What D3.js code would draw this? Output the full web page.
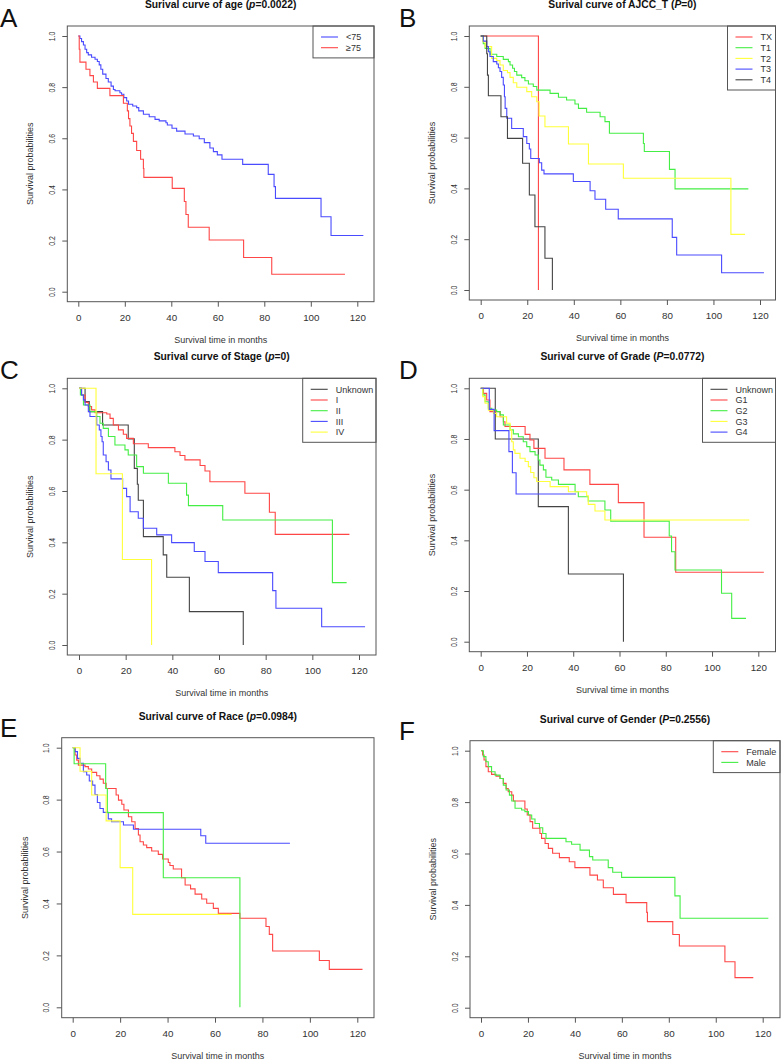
<!DOCTYPE html>
<html>
<head>
<meta charset="utf-8">
<script src="https://cdn.jsdelivr.net/npm/d3@7"></script>
<style>
  body { margin: 0; background: #fff; }
  svg { display: block; font-family: "Liberation Sans", Arial, sans-serif; }
  .box { fill: none; stroke: #555; stroke-width: 1; }
  .tick line { stroke: #555; }
  .lbl { fill: #333; }
  .title { font-weight: bold; font-size: 10.3px; fill: #111; }
  .curve { fill: none; stroke-width: 1.1; }
</style>
</head>
<body>
<script>
// tick values shared by all six panels
var monthTicks = [0, 20, 40, 60, 80, 100, 120];
var probTicks = [0, 0.2, 0.4, 0.6, 0.8, 1.0];

// Kaplan-Meier steps: [month, survival after the drop]
// A: age
var ageUnder75 = [[0,1],[0.7,0.99],[1.4,0.978],[2.2,0.965],[2.9,0.948],[3.6,0.935],[4.3,0.926],[5.7,0.917],[7.2,0.909],[8.2,0.9],[9.0,0.887],[9.7,0.87],[10.5,0.851],[11.9,0.834],[12.9,0.82],[14.1,0.804],[15.1,0.791],[15.8,0.786],[17.9,0.778],[18.6,0.772],[19.6,0.759],[20.8,0.746],[21.6,0.733],[23.4,0.726],[25.1,0.72],[26.0,0.707],[28.0,0.694],[30.5,0.684],[33.0,0.674],[34.8,0.668],[37.7,0.661],[38.3,0.652],[40.3,0.639],[42.3,0.628],[45.9,0.617],[49.5,0.609],[52.0,0.598],[54.2,0.583],[56.6,0.562],[58.1,0.548],[59.8,0.535],[61.8,0.518],[70.7,0.498],[81.7,0.459],[84.2,0.411],[84.8,0.365],[104.4,0.293],[108.7,0.22],[122.6,0.22]];
var ageOver75 = [[0,1],[0.4,0.948],[0.7,0.898],[3.3,0.87],[5.0,0.845],[6.5,0.82],[8.2,0.795],[13.6,0.767],[19.4,0.737],[21.1,0.707],[21.6,0.677],[22.2,0.648],[22.9,0.619],[23.7,0.588],[25.1,0.552],[26.8,0.518],[28.0,0.482],[28.2,0.447],[40.4,0.404],[45.6,0.353],[46.3,0.302],[47.3,0.252],[56.3,0.202],[71.1,0.134],[83.2,0.068],[114.7,0.068]];

// B: AJCC T
var ajccTX = [[0,1],[24.8,0]];
var ajccT1 = [[0,1],[1.1,0.97],[1.9,0.951],[4.0,0.928],[6.9,0.919],[9.7,0.908],[11.9,0.899],[12.6,0.886],[13.7,0.873],[14.5,0.86],[15.5,0.846],[17.6,0.836],[19.0,0.824],[20.5,0.811],[22.6,0.801],[24.1,0.787],[29.8,0.774],[33.4,0.759],[36.9,0.748],[40.5,0.732],[42.0,0.715],[45.5,0.7],[51.3,0.682],[53.4,0.663],[55.3,0.617],[69.9,0.577],[70.3,0.545],[81.1,0.475],[83.5,0.398],[115.0,0.398]];
var ajccT2 = [[0,1],[0.9,0.978],[1.9,0.958],[4.7,0.912],[6.9,0.903],[8.3,0.886],[9.7,0.864],[11.5,0.856],[12.6,0.837],[14.0,0.816],[15.5,0.798],[19.8,0.781],[21.9,0.761],[24.1,0.741],[25.1,0.685],[27.6,0.643],[37.7,0.575],[46.3,0.496],[61.3,0.44],[107.5,0.219],[113.6,0.219]];
var ajccT3 = [[0,1],[1.1,0.98],[2.6,0.958],[3.3,0.938],[4.0,0.919],[5.4,0.899],[6.9,0.89],[7.6,0.875],[8.3,0.86],[9.0,0.837],[9.7,0.807],[10.2,0.761],[10.5,0.715],[11.2,0.676],[13.3,0.636],[18.3,0.604],[19.8,0.577],[20.9,0.555],[21.5,0.518],[25.2,0.501],[26.2,0.472],[27.2,0.457],[39.8,0.427],[47.0,0.391],[49.1,0.357],[53.7,0.318],[59.1,0.28],[82.3,0.207],[84.2,0.138],[103.5,0.068],[121.7,0.068]];
var ajccT4 = [[0,1],[2.6,0.93],[2.9,0.846],[3.3,0.765],[8.7,0.682],[11.5,0.597],[18.0,0.499],[20.9,0.374],[23.3,0.249],[27.6,0.125],[30.8,0]];

// C: stage
var stageUnknown = [[0,1],[2.6,0.948],[4.4,0.909],[10.1,0.857],[21.1,0.803],[23.7,0.688],[25.0,0.626],[25.4,0.564],[27.6,0.422],[36.1,0.351],[37.6,0.264],[47.3,0.13],[70.4,0]];
var stageI = [[0,1],[1.1,0.974],[2.6,0.945],[4.0,0.929],[5.4,0.916],[6.9,0.905],[11.9,0.9],[13.3,0.883],[14.7,0.857],[16.9,0.838],[19.0,0.821],[20.4,0.805],[23.3,0.784],[29.7,0.769],[41.1,0.753],[43.3,0.738],[45.4,0.721],[51.9,0.699],[54.0,0.678],[56.1,0.636],[71.1,0.591],[81.6,0.517],[84.1,0.431],[115.9,0.431]];
var stageII = [[0,1],[0.6,0.974],[1.9,0.935],[4.7,0.909],[7.6,0.89],[9.0,0.864],[10.4,0.844],[12.6,0.812],[15.4,0.779],[19.7,0.76],[21.1,0.74],[24.7,0.695],[27.6,0.669],[38.3,0.63],[46.1,0.584],[46.9,0.543],[61.6,0.487],[108.6,0.243],[114.7,0.243]];
var stageIII = [[0,1],[1.1,0.974],[1.9,0.955],[2.6,0.935],[4.0,0.909],[4.7,0.89],[7.6,0.857],[8.7,0.838],[9.4,0.812],[9.9,0.792],[10.4,0.74],[11.6,0.714],[12.6,0.682],[13.7,0.647],[18.7,0.61],[20.4,0.578],[21.9,0.519],[25.4,0.494],[27.6,0.455],[33.3,0.429],[39.7,0.399],[49.4,0.364],[54.0,0.325],[59.7,0.282],[83.0,0.212],[84.4,0.143],[104.0,0.071],[122.6,0.071]];
var stageIV = [[0,1],[7.3,0.667],[18.6,0.333],[31.1,0]];

// D: grade
var gradeUnknown = [[0,1],[6.3,0.8],[24.9,0.533],[37.9,0.267],[61.7,0]];
var gradeG1 = [[0,1],[1.2,0.98],[2.6,0.954],[4.0,0.908],[8.4,0.888],[9.8,0.868],[10.5,0.849],[19.2,0.818],[21.3,0.796],[23.0,0.763],[27.8,0.724],[36.0,0.678],[47.2,0.621],[59.5,0.549],[70.6,0.412],[84.3,0.274],[122.4,0.274]];
var gradeG2 = [[0,1],[0.9,0.974],[1.9,0.947],[3.3,0.921],[4.8,0.914],[6.9,0.908],[8.4,0.895],[9.8,0.855],[12.7,0.836],[14.1,0.82],[16.3,0.809],[18.4,0.789],[19.9,0.77],[21.3,0.75],[23.5,0.737],[24.9,0.717],[25.6,0.697],[27.1,0.678],[28.2,0.649],[30.7,0.638],[33.6,0.621],[40.8,0.592],[42.2,0.572],[46.5,0.555],[53.7,0.52],[56.2,0.476],[81.5,0.417],[82.5,0.355],[84.0,0.283],[104.1,0.191],[108.5,0.092],[114.7,0.092]];
var gradeG3 = [[0,1],[0.9,0.967],[1.9,0.941],[3.3,0.914],[5.5,0.901],[6.9,0.888],[11.2,0.862],[12.7,0.836],[13.4,0.789],[14.1,0.757],[14.8,0.743],[17.0,0.724],[19.2,0.711],[20.6,0.691],[21.6,0.668],[23.0,0.647],[24.2,0.632],[30.0,0.612],[37.9,0.592],[45.8,0.576],[46.5,0.542],[49.4,0.516],[53.7,0.48],[116.1,0.48]];
var gradeG4 = [[0,1],[3.7,0.917],[5.8,0.833],[12.2,0.75],[13.7,0.667],[15.3,0.583],[41.2,0.583]];

// E: race (no legend in the figure)
var raceGroup1 = [[0,1],[1.0,0.972],[1.7,0.952],[2.4,0.933],[5.2,0.927],[6.6,0.918],[8.0,0.905],[10.1,0.892],[11.5,0.879],[12.9,0.863],[14.1,0.843],[18.3,0.818],[19.3,0.798],[20.7,0.782],[21.6,0.76],[23.5,0.734],[24.9,0.715],[26.3,0.689],[27.7,0.664],[28.4,0.638],[29.8,0.625],[31.2,0.615],[33.3,0.602],[36.1,0.589],[37.9,0.571],[40.3,0.558],[41.0,0.546],[42.4,0.533],[45.9,0.499],[47.4,0.471],[49.7,0.456],[51.6,0.436],[54.4,0.417],[56.5,0.401],[59.3,0.381],[61.4,0.362],[70.5,0.343],[81.5,0.311],[82.9,0.281],[84.3,0.217],[104.0,0.18],[108.2,0.146],[122.2,0.146]];
var raceGroup2 = [[0,1],[1.0,0.985],[2.0,0.959],[3.1,0.94],[4.5,0.908],[5.9,0.895],[7.0,0.872],[8.4,0.856],[9.4,0.82],[10.4,0.789],[11.5,0.766],[12.9,0.751],[15.0,0.726],[16.4,0.715],[21.4,0.702],[25.6,0.686],[54.0,0.661],[56.1,0.632],[91.6,0.632]];
var raceGroup3 = [[0,1],[0.6,0.938],[13.9,0.843],[14.6,0.75],[38.2,0.499],[70.5,0]];
var raceGroup4 = [[0,1],[3.1,0.909],[8.0,0.818],[14.1,0.718],[20.0,0.538],[25.3,0.358],[67.0,0.358]];

// F: gender
var genderFemale = [[0,1],[0.7,0.983],[1.3,0.964],[2.1,0.938],[3.1,0.918],[4.5,0.908],[6.4,0.901],[8.1,0.892],[9.5,0.873],[10.7,0.853],[11.6,0.84],[13.1,0.827],[13.8,0.804],[18.7,0.773],[19.7,0.75],[20.9,0.724],[22.0,0.698],[25.1,0.678],[25.8,0.659],[27.3,0.639],[28.7,0.62],[30.5,0.601],[33.4,0.584],[37.6,0.568],[40.0,0.545],[46.4,0.516],[49.6,0.497],[52.1,0.467],[56.4,0.441],[61.8,0.409],[70.6,0.371],[70.9,0.335],[81.7,0.285],[84.5,0.24],[103.9,0.179],[108.2,0.117],[116.0,0.117]];
var genderMale = [[0,1],[1.0,0.977],[2.1,0.957],[3.1,0.938],[4.5,0.918],[6.0,0.905],[8.1,0.892],[9.5,0.866],[10.7,0.847],[12.1,0.827],[13.1,0.804],[14.5,0.776],[17.3,0.769],[18.7,0.763],[20.2,0.75],[21.6,0.734],[23.0,0.717],[24.9,0.7],[26.3,0.678],[27.7,0.659],[36.2,0.646],[38.6,0.636],[42.2,0.613],[46.2,0.588],[47.6,0.575],[54.2,0.545],[56.1,0.527],[59.9,0.507],[82.6,0.435],[84.8,0.348],[122.4,0.348]];

var RED = "#ff4646", GREEN = "#44ee44", BLUE = "#4a4aff", YELLOW = "#ffff3a", BLACK = "#444";

var panels = [
  { letter: "A", title: "Surival curve of age (", p: "p", pval: "=0.0022)",
    box: [67.3, 26, 374, 301.7], x: [78.3, 357.3], y: [291.7, 36], legendW: 61,
    series: [["<75", ageUnder75, BLUE], ["\u226575", ageOver75, RED]] },
  { letter: "B", title: "Surival curve of AJCC_T (", p: "P", pval: "=0)",
    box: [469.3, 26, 775.5, 300], x: [480.7, 760], y: [290, 36], legendW: 48,
    series: [["TX", ajccTX, RED], ["T1", ajccT1, GREEN], ["T2", ajccT2, YELLOW], ["T3", ajccT3, BLUE], ["T4", ajccT4, BLACK]] },
  { letter: "C", title: "Surival curve of Stage (", p: "p", pval: "=0)",
    box: [67.3, 378.3, 376, 655], x: [79, 359], y: [645, 388.3], legendW: 73.3,
    series: [["Unknown", stageUnknown, BLACK], ["I", stageI, RED], ["II", stageII, GREEN], ["III", stageIII, BLUE], ["IV", stageIV, YELLOW]] },
  { letter: "D", title: "Surival curve of Grade (", p: "P", pval: "=0.0772)",
    box: [469.3, 378.3, 775.5, 651.7], x: [480.7, 758.3], y: [641.7, 388.3], legendW: 73,
    series: [["Unknown", gradeUnknown, BLACK], ["G1", gradeG1, RED], ["G2", gradeG2, GREEN], ["G3", gradeG3, YELLOW], ["G4", gradeG4, BLUE]] },
  { letter: "E", title: "Surival curve of Race (", p: "p", pval: "=0.0984)",
    box: [61.7, 737.7, 374, 1017.7], x: [72.7, 357.3], y: [1007.3, 747.7], legendW: 0,
    series: [["", raceGroup1, RED], ["", raceGroup2, BLUE], ["", raceGroup3, GREEN], ["", raceGroup4, YELLOW]] },
  { letter: "F", title: "Surival curve of Gender (", p: "P", pval: "=0.2556)",
    box: [470, 740.7, 780, 1017.7], x: [481, 762.7], y: [1007.7, 750.7], legendW: 66.7,
    series: [["Female", genderFemale, RED], ["Male", genderMale, GREEN]] }
];

var svg = d3.select("body").append("svg")
    .attr("width", 781)
    .attr("height", 1060);

panels.forEach(function(p) {
  var g = svg.append("g");
  var b = p.box;
  var x = d3.scaleLinear().domain([0, 120]).range(p.x);
  var y = d3.scaleLinear().domain([0, 1]).range(p.y);
  var cx = (b[0] + b[2]) / 2, cy = (b[1] + b[3]) / 2;

  // panel letter
  g.append("text")
      .attr("x", p.letter == "A" || p.letter == "C" || p.letter == "E" ? 0 : 399)
      .attr("y", b[1] + (p.letter < "E" ? 1 : -1))
      .style("font-size", "26px")
      .attr("fill", "#111")
      .text(p.letter);

  var t = g.append("text").attr("class", "title")
      .attr("x", cx).attr("y", b[1] - 18)
      .attr("text-anchor", "middle");
  t.append("tspan").text(p.title);
  t.append("tspan").style("font-style", "italic").text(p.p);
  t.append("tspan").text(p.pval);

  // curves
  var line = d3.line()
      .x(function(d) { return x(d[0]); })
      .y(function(d) { return y(d[1]); })
      .curve(d3.curveStepAfter);
  p.series.forEach(function(s) {
    g.append("path").attr("class", "curve")
        .attr("d", line(s[1]))
        .attr("stroke", s[2]);
  });

  g.append("rect").attr("class", "box")
      .attr("x", b[0]).attr("y", b[1])
      .attr("width", b[2] - b[0]).attr("height", b[3] - b[1]);

  // x axis
  var xa = g.append("g").attr("transform", "translate(0," + b[3] + ")")
      .call(d3.axisBottom(x).tickValues(monthTicks).tickSize(5).tickPadding(7));
  xa.select(".domain").remove();
  xa.selectAll("text").attr("fill", "#333").style("font-size", "9.8px").style("font-family", "inherit");

  // y axis (labels rotated, as in base R)
  var ya = g.append("g").attr("transform", "translate(" + b[0] + ",0)")
      .call(d3.axisLeft(y).tickValues(probTicks).tickSize(5).tickFormat(d3.format(".1f")));
  ya.select(".domain").remove();
  ya.selectAll("text")
      .attr("x", null).attr("dy", null)
      .attr("text-anchor", "middle")
      .attr("transform", "translate(-12.5,0) rotate(-90) scale(0.7,1)")
      .attr("fill", "#333").style("font-size", "9.8px").style("font-family", "inherit");

  g.append("text").attr("class", "lbl")
      .attr("x", cx).attr("y", b[3] + 41)
      .attr("text-anchor", "middle").style("font-size", "9px")
      .text("Survival time in months");
  g.append("text").attr("class", "lbl")
      .attr("transform", "translate(" + (b[0] - 34) + "," + cy + ") rotate(-90)")
      .attr("text-anchor", "middle").style("font-size", "9px")
      .text("Survival probabilities");

  // legend, top-right corner
  if (p.legendW > 0) {
    var n = p.series.length;
    var lx = b[2] - p.legendW, ly = b[1];
    g.append("rect").attr("class", "box")
        .attr("x", lx).attr("y", ly)
        .attr("width", p.legendW).attr("height", 10.7 * n + 10.5);
    p.series.forEach(function(s, i) {
      var yy = ly + 11 + i * 10.7;
      g.append("line").attr("x1", lx + 8).attr("x2", lx + 25)
          .attr("y1", yy).attr("y2", yy)
          .attr("stroke", s[2]).attr("stroke-width", 1.1);
      g.append("text").attr("class", "lbl")
          .attr("x", lx + 33).attr("y", yy + 3.2)
          .style("font-size", "9px")
          .text(s[0]);
    });
  }
});
</script>
</body>
</html>
